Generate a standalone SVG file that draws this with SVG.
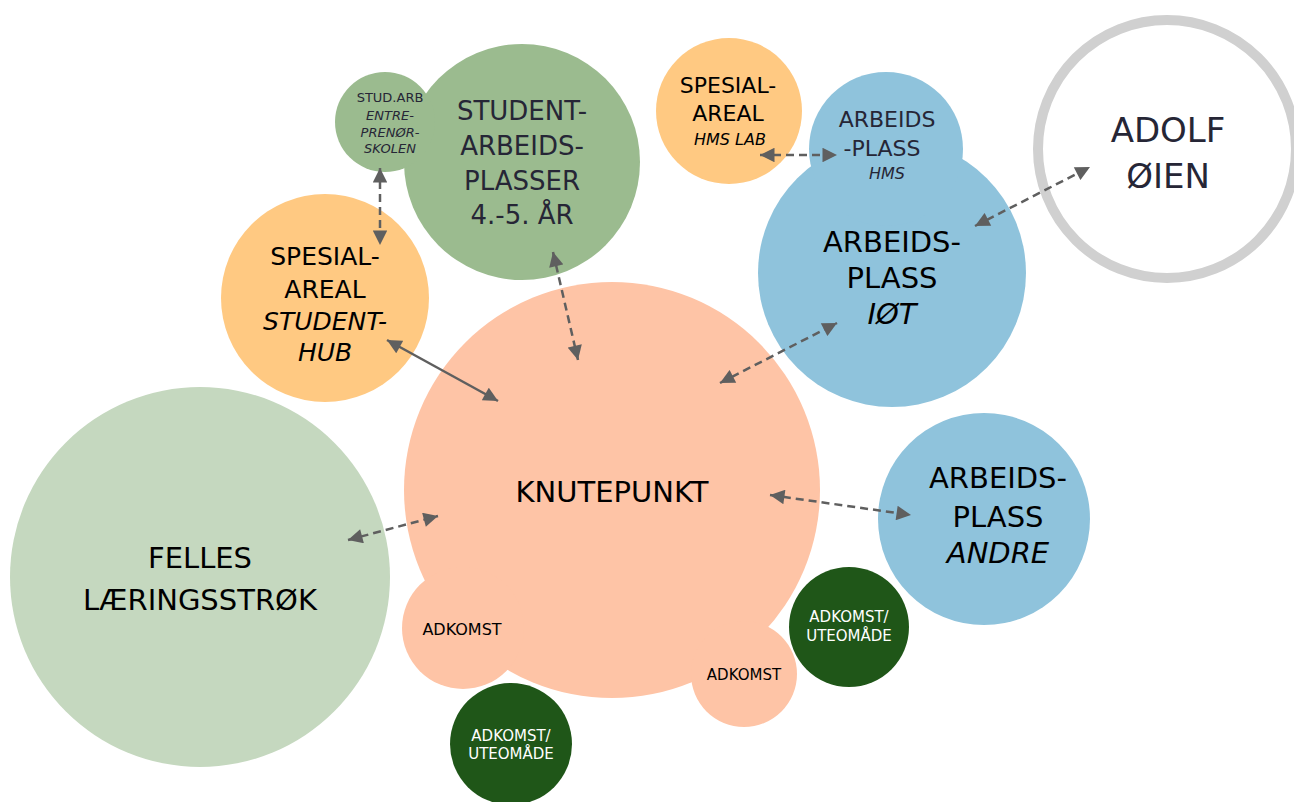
<svg xmlns="http://www.w3.org/2000/svg" width="1294" height="802" viewBox="0 0 1294 802">
<defs>
<marker id="ah" viewBox="0 0 10 10" refX="10" refY="5" markerWidth="6.4" markerHeight="5.8" markerUnits="strokeWidth" orient="auto-start-reverse">
<path d="M0,0 L10,5 L0,10 Z" fill="#5f5f5f"/>
</marker>
<style>
text{font-family:"DejaVu Sans","Verdana",sans-serif;text-anchor:middle}
.k{fill:#fec4a6}
.o{fill:#ffc982}
.g{fill:#9bbb8f}
.lg{fill:#c5d8bf}
.b{fill:#8fc3dc}
.dg{fill:#1f5618}
.dk{fill:#262636}
.bl{fill:#000}
.w{fill:#fff}
.it{font-style:italic}
.c{stroke:#5f5f5f;stroke-width:2.5;fill:none;marker-start:url(#ah);marker-end:url(#ah)}
.d{stroke-dasharray:8 5}
</style>
</defs>
<rect width="1294" height="802" fill="#fff"/>

<g id="felles">
<circle class="lg" cx="200" cy="577" r="190"/>
<text class="bl" x="200" y="568" font-size="29">FELLES</text>
<text class="bl" x="200" y="610" font-size="29">LÆRINGSSTRØK</text>
</g>

<g id="knutepunkt">
<circle class="k" cx="612" cy="490" r="208"/>
<circle class="k" cx="463" cy="628" r="61"/>
<circle class="k" cx="744" cy="674" r="53"/>
<text class="bl" x="612" y="502" font-size="29">KNUTEPUNKT</text>
</g>
<g id="adkomst-venstre">
<text class="bl" x="462" y="635" font-size="16">ADKOMST</text>
</g>
<g id="adkomst-hoyre">
<text class="bl" x="744" y="680" font-size="15">ADKOMST</text>
</g>

<g id="uteomrade-bunn">
<circle class="dg" cx="511" cy="744" r="61"/>
<text class="w" x="511" y="741" font-size="15">ADKOMST/</text>
<text class="w" x="511" y="759" font-size="15">UTEOMÅDE</text>
</g>
<g id="uteomrade-hoyre">
<circle class="dg" cx="849" cy="627" r="60"/>
<text class="w" x="849" y="622" font-size="15">ADKOMST/</text>
<text class="w" x="849" y="641" font-size="15">UTEOMÅDE</text>
</g>

<g id="studentarbeidsplasser">
<circle class="g" cx="522" cy="162" r="118"/>
<text class="dk" x="522" y="120" font-size="26">STUDENT-</text>
<text class="dk" x="522" y="155" font-size="26">ARBEIDS-</text>
<text class="dk" x="522" y="190" font-size="26">PLASSER</text>
<text class="dk" x="522" y="224" font-size="26">4.-5. ÅR</text>
</g>

<g id="entreprenorskolen">
<circle class="g" cx="385" cy="122" r="50"/>
<text class="dk" x="390" y="102" font-size="13">STUD.ARB</text>
<text class="dk it" x="390" y="120" font-size="13">ENTRE-</text>
<text class="dk it" x="390" y="137" font-size="13">PRENØR-</text>
<text class="dk it" x="390" y="153" font-size="13">SKOLEN</text>
</g>

<g id="studenthub">
<circle class="o" cx="325" cy="298" r="104"/>
<text class="bl" x="325" y="265" font-size="25">SPESIAL-</text>
<text class="bl" x="325" y="298" font-size="25">AREAL</text>
<text class="bl it" x="325" y="330" font-size="25">STUDENT-</text>
<text class="bl it" x="325" y="361" font-size="25">HUB</text>
</g>

<g id="hmslab">
<circle class="o" cx="729" cy="111" r="73"/>
<text class="bl" x="728" y="93" font-size="22">SPESIAL-</text>
<text class="bl" x="728" y="121" font-size="22">AREAL</text>
<text class="bl it" x="730" y="145" font-size="16">HMS LAB</text>
</g>

<g id="arbeidsplass-iot">
<circle class="b" cx="892" cy="273" r="134"/>
<text class="bl" x="892" y="252" font-size="29">ARBEIDS-</text>
<text class="bl" x="892" y="288" font-size="29">PLASS</text>
<text class="bl it" x="892" y="324" font-size="29">IØT</text>
</g>

<g id="arbeidsplass-hms">
<circle class="b" cx="886" cy="149" r="77"/>
<text class="dk" x="887" y="127" font-size="22">ARBEIDS</text>
<text class="dk" x="882" y="156" font-size="22">-PLASS</text>
<text class="dk it" x="887" y="179" font-size="16">HMS</text>
</g>

<g id="arbeidsplass-andre">
<circle class="b" cx="984" cy="519" r="106"/>
<text class="bl" x="998" y="488" font-size="29">ARBEIDS-</text>
<text class="bl" x="998" y="527" font-size="29">PLASS</text>
<text class="bl it" x="998" y="563" font-size="29">ANDRE</text>
</g>

<g id="adolf-oien">
<circle cx="1167" cy="149" r="129" fill="#fff" stroke="#d0d0d0" stroke-width="10"/>
<text class="dk" x="1168" y="142" font-size="34">ADOLF</text>
<text class="dk" x="1168" y="188" font-size="34">ØIEN</text>
</g>

<g id="connectors">
<line class="c d" x1="380" y1="168" x2="380" y2="245"/>
<line class="c d" x1="553" y1="252" x2="578" y2="360"/>
<line class="c" x1="387" y1="340" x2="498" y2="401"/>
<line class="c d" x1="760" y1="155" x2="837" y2="155"/>
<line class="c d" x1="975" y1="226" x2="1090" y2="167"/>
<line class="c d" x1="720" y1="383" x2="837" y2="323"/>
<line class="c d" x1="348" y1="540" x2="438" y2="516"/>
<line class="c d" x1="770" y1="495" x2="911" y2="515"/>
</g>
</svg>
